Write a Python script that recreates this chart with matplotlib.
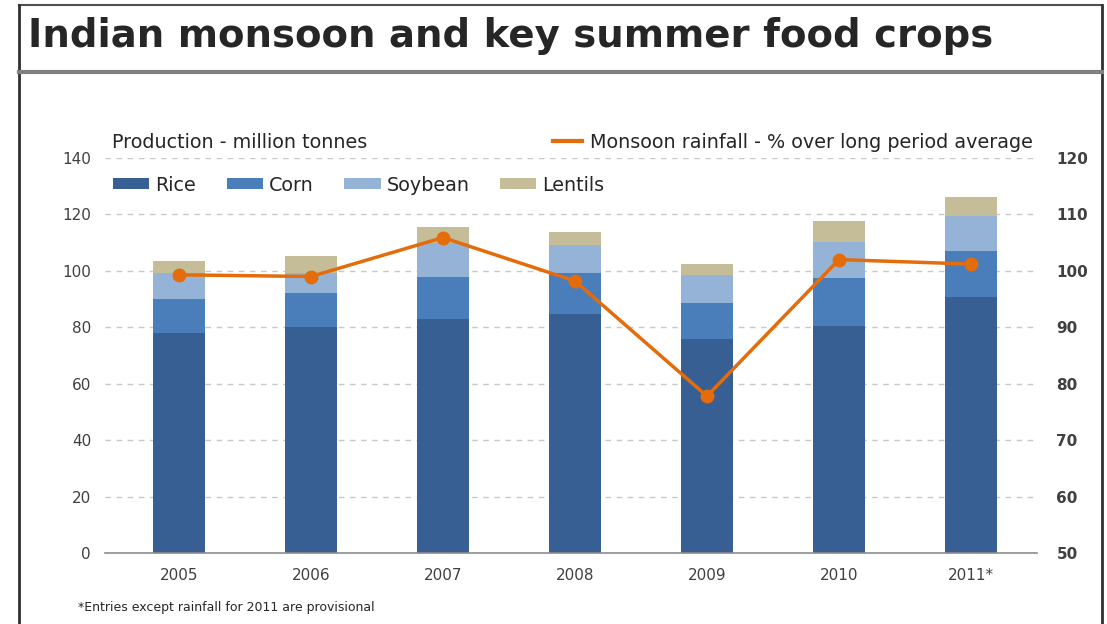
import numpy as np
import matplotlib
matplotlib.use("Agg")
import matplotlib.pyplot as plt
from matplotlib.lines import Line2D


years = ["2005", "2006", "2007", "2008", "2009", "2010", "2011*"]
rice = [78.1, 80.0, 83.0, 84.7, 75.7, 80.6, 90.9]
corn = [11.8, 12.1, 15.0, 14.7, 12.8, 17.0, 16.3]
soybean = [9.2, 7.0, 11.8, 9.8, 10.0, 12.8, 12.3]
lentils = [4.5, 6.2, 5.9, 4.7, 3.8, 7.1, 6.6]
rainfall = [99.3, 99.0, 105.9, 98.2, 77.8, 102.0, 101.2]

left_ticks = [0, 20, 40, 60, 80, 100, 120, 140]
right_ticks = [50, 60, 70, 80, 90, 100, 110, 120]

C_RICE = "#375f94"
C_CORN = "#4a7ebb"
C_SOY = "#95b3d7"
C_LENT = "#c4bd97"
C_ORANGE = "#e46c0a"
TXT = "#404040"


def main():
    plt.rcParams["font.family"] = ["DejaVu Sans"]
    W, H = 1107, 624
    fig = plt.figure(figsize=(W / 100, H / 100), dpi=100)

    # frame and title
    def fline(x0, y0, x1, y1, **kw):
        fig.add_artist(Line2D([x0 / W, x1 / W], [1 - y0 / H, 1 - y1 / H], **kw))

    fline(19, 5, 1102, 5, color="#505050", lw=1.5)
    fline(19, 5, 19, 624, color="#303030", lw=2)
    fline(1102, 5, 1102, 624, color="#303030", lw=2)
    fline(19, 72, 1102, 72, color="#808080", lw=3)
    fig.text(28 / W, 1 - 36 / H, "Indian monsoon and key summer food crops",
             fontsize=27.8, fontweight="bold", color="#262626", va="center", ha="left")

    ax = fig.add_axes([105 / W, 1 - 553 / H, (1037 - 105) / W, (553 - 158) / H])
    x = np.arange(len(years))
    w = 0.39
    b1 = np.array(rice)
    b2 = b1 + np.array(corn)
    b3 = b2 + np.array(soybean)
    h_rice = ax.bar(x, rice, w, color=C_RICE, label="Rice", zorder=2)
    h_corn = ax.bar(x, corn, w, bottom=b1, color=C_CORN, label="Corn", zorder=2)
    h_soy = ax.bar(x, soybean, w, bottom=b2, color=C_SOY, label="Soybean", zorder=2)
    h_lent = ax.bar(x, lentils, w, bottom=b3, color=C_LENT, label="Lentils", zorder=2)

    ax.set_xlim(-0.56, len(years) - 0.5)
    ax.set_ylim(0, 140)
    ax.set_yticks(left_ticks)
    ax.set_xticks(x)
    ax.set_xticklabels(years)
    for s in ["top", "left", "right"]:
        ax.spines[s].set_visible(False)
    ax.spines["bottom"].set_color("#8c8c8c")
    ax.spines["bottom"].set_linewidth(1.2)
    ax.tick_params(axis="y", length=0, pad=10, labelsize=11, labelcolor=TXT)
    ax.tick_params(axis="x", length=0, pad=11, labelsize=11, labelcolor=TXT)
    for t in left_ticks[1:]:
        ax.axhline(t, color="#c8c8c8", lw=1, ls=(0, (4, 4)), zorder=1)

    ax2 = ax.twinx()
    ax2.set_ylim(50, 120)
    ax2.set_yticks(right_ticks)
    for s in ax2.spines.values():
        s.set_visible(False)
    ax2.tick_params(axis="y", length=0, pad=14, labelsize=11, labelcolor=TXT)
    for lab in ax2.get_yticklabels():
        lab.set_fontweight("bold")
    ax2.plot(x, rainfall, color=C_ORANGE, lw=2.5, marker="o", markersize=9, zorder=3)

    # texts and legends
    fig.text(112 / W, 1 - 142 / H, "Production - million tonnes", fontsize=13.8,
             color="#262626", va="center", ha="left")
    fig.text(78 / W, 1 - 607 / H, "*Entries except rainfall for 2011 are provisional",
             fontsize=9, color="#262626", va="center", ha="left")

    leg = fig.legend(handles=[h_rice, h_corn, h_soy, h_lent], ncol=4,
                     loc="center left", bbox_to_anchor=(113 / W, 1 - 185 / H),
                     frameon=False, fontsize=13.8, borderpad=0, borderaxespad=0,
                     handlelength=1.9, handleheight=0.5, handletextpad=0.3,
                     columnspacing=1.6)
    for t in leg.get_texts():
        t.set_color("#262626")

    mline = Line2D([], [], color=C_ORANGE, lw=3)
    leg2 = fig.legend(handles=[mline], labels=["Monsoon rainfall - % over long period average"],
                      loc="center left", bbox_to_anchor=(553 / W, 1 - 142 / H),
                      frameon=False, fontsize=13.8, borderpad=0, borderaxespad=0,
                      handlelength=1.5, handletextpad=0.45)
    for t in leg2.get_texts():
        t.set_color("#262626")

    fig.savefig("out.png", dpi=100)


if __name__ == "__main__":
    main()
